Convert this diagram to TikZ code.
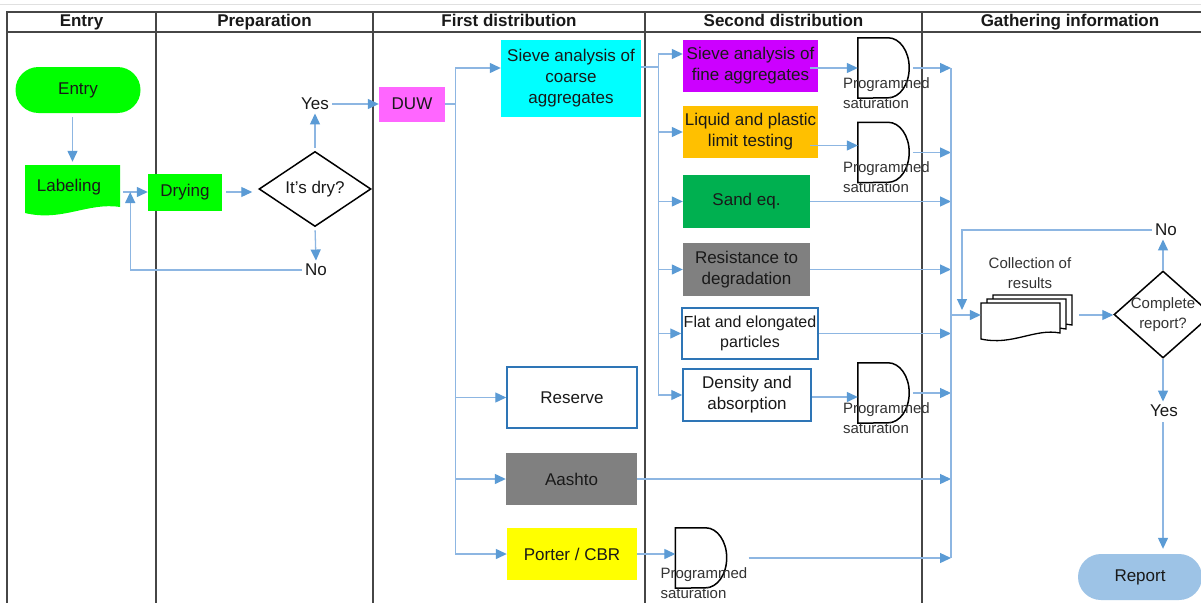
\documentclass[tikz,border=0pt]{standalone}
\usepackage{fontspec}
\setmainfont{Liberation Sans}
\usepackage{tikz}
\usetikzlibrary{calc,shapes,arrows,arrows.meta}

\definecolor{lnk}{RGB}{141,182,226}
\definecolor{tip}{RGB}{91,155,213}
\definecolor{frame}{RGB}{70,70,70}
\definecolor{bord}{RGB}{46,117,182}
\definecolor{grn}{RGB}{0,255,0}
\definecolor{pnk}{RGB}{255,102,255}
\definecolor{cyn}{RGB}{0,255,255}
\definecolor{prp}{RGB}{204,0,255}
\definecolor{org}{RGB}{255,192,0}
\definecolor{sand}{RGB}{0,176,80}
\definecolor{gry}{RGB}{128,128,128}
\definecolor{ylw}{RGB}{255,255,0}
\definecolor{rep}{RGB}{157,195,230}

\begin{document}
\begin{tikzpicture}[x=1pt,y=-1pt,
    every node/.style={font=\fontsize{17}{21}\selectfont, text=black!90},
    small/.style={font=\fontsize{15}{20}\selectfont, text=black!80},
    head/.style={font=\fontsize{17}{21}\selectfont\bfseries, text height=12.5pt, text depth=3.5pt},
    grid/.style={draw=frame, line width=1.2pt},
    conn/.style={draw=lnk, line width=1.3pt, -{Triangle[length=11pt,width=10pt,color=tip]}},
    wire/.style={draw=lnk, line width=1.3pt},
    box/.style={rectangle, inner sep=0pt, align=center},
    bbox/.style={box, draw=bord, line width=1.5pt},
    term/.style={rectangle, rounded corners=23pt, minimum height=46pt, inner sep=0pt},
    decide/.style={diamond, draw=black, line width=1.5pt, inner sep=0pt, align=center},
    delay/.style={minimum width=51pt, minimum height=60pt, inner sep=0pt},
    outline/.style={draw=black, line width=1.5pt}]

    \fill[white] (0,0) rectangle (1201,602);
    \useasboundingbox (0,0) rectangle (1201,602);
    \draw[black!12, line width=1pt] (0,5) -- (1201,5);
    \draw[grid] (7,620) |- (1230,12);
    \draw[grid] (7,32) -- (1230,32);
    \foreach \a/\b/\t [count=\i] in {7/156/Entry, 156/373/Preparation, 373/645/First distribution, 645/922/Second distribution, 922/1218/Gathering information} {
        \draw[grid] (\b,12) -- (\b,620);
        \node[head] (h\i) at ({(\a+\b)/2},22) {\t};
    }

    \node[term, fill=grn, minimum width=125pt] (entry) at (78,90) {Entry};
    \fill[grn] (25,165) -- (120,165) -- (120,207) .. controls (88,202) and (62,222) .. (25,213) -- cycle;
    \node[box, minimum width=95pt, minimum height=44pt] (lab) at (72.5,187) {Labeling\hspace*{7pt}};
    \node[box, fill=grn, minimum width=74pt, minimum height=37pt] (dry) at (185,192) {Drying};
    \node[decide, minimum width=112pt, minimum height=67pt] (isdry) at (315,189) {It’s dry?};
    \node (yes1) at (315,104) {Yes};
    \node (no1) at (316,270) {No};
    \node[box, fill=pnk, minimum width=66pt, minimum height=35pt] (duw) at (412,104) {DUW};

    \node[box, fill=cyn, minimum width=140pt, minimum height=77pt] (coarse) at (571,78.5) {Sieve analysis of\\coarse\\aggregates};
    \node[bbox, minimum width=130pt, minimum height=61pt] (reserve) at (572,397.5) {Reserve};
    \node[box, fill=gry, minimum width=131pt, minimum height=52pt] (aashto) at (571.5,479) {Aashto};
    \node[box, fill=ylw, minimum width=130pt, minimum height=52pt] (porter) at (572,554) {Porter / CBR};

    \node[box, fill=prp, minimum width=135pt, minimum height=52pt] (fine) at (750.5,66) {Sieve analysis of\\fine aggregates};
    \node[box, fill=org, minimum width=135pt, minimum height=52pt] (liquid) at (750.5,132) {Liquid and plastic\\limit testing};
    \node[box, fill=sand, minimum width=127pt, minimum height=53pt] (sandeq) at (746.5,201.5) {Sand eq.};
    \node[box, fill=gry, minimum width=127pt, minimum height=53pt] (resist) at (746.5,269.5) {Resistance to\\degradation};
    \node[bbox, minimum width=136pt, minimum height=51pt, font=\fontsize{16}{20}\selectfont] (flat) at (750,333.5) {Flat and elongated\\particles};
    \node[bbox, minimum width=128pt, minimum height=52pt] (density) at (747,395) {Density and\\absorption};

    \node[delay] (d1) at (883.5,68) {};
    \node[delay] (d2) at (883.5,152.5) {};
    \node[delay] (d3) at (883.5,393) {};
    \node[delay] (d4) at (701,558) {};
    \foreach \d in {d1,d2,d3,d4} {
        \draw[outline] (\d.north west) -- ([xshift=-21pt]\d.north east) arc[start angle=90, end angle=-90, x radius=21pt, y radius=30pt] -- (\d.south west) -- cycle;
        \node[small, align=left, anchor=west, inner sep=0pt] (\d-l) at ([xshift=-15pt, yshift=-25pt]\d.west) {Programmed\\saturation};
    }

    \foreach \k/\j in {12/8, 6/4, 0/0}
        \filldraw[fill=white, draw=black, line width=1.3pt, shift={(\k,-\j)}] (981,303) -- (1060,303) -- (1060,333) .. controls (1035,328) and (1012,346) .. (981,339) -- cycle;
    \node[minimum width=91pt, minimum height=45pt, inner sep=0pt] (coll) at (1026.5,315) {};
    \node[small, align=center] (coll-l) at (1030,273) {Collection of\\results};
    \node[decide, small, inner sep=-3pt, minimum width=98pt, minimum height=87pt] (done) at (1163,314.5) {Complete\\report?};
    \node (no2) at (1166,230) {No};
    \node (yes2) at (1164,411) {Yes};
    \node[term, fill=rep, minimum width=124pt] (report) at (1140,577) {Report};
    \coordinate (g) at (951,315);

    \draw[conn, shorten <=4pt, shorten >=3pt] (entry.south -| lab.north) -- (lab.north);
    \draw[conn] ($(lab.east |- dry.west)+(3,0)$) -- (dry.west);
    \draw[conn, shorten <=4pt, shorten >=6pt] (dry.east) -- (dry.east -| isdry.west);
    \draw[conn, shorten <=3pt] (isdry.north) -- (yes1.south);
    \draw[conn] (yes1.east) -- (duw.west);
    \draw[conn, shorten <=3pt] (isdry.south) -- (no1.north);
    \draw[conn] (no1.west) -| ($(lab.east |- dry.west)+(10,0)$);

    \draw[conn] (duw.east) -- ++(10,0) |- ($(coarse.west)+(0,-10.5)$);
    \foreach \t in {reserve,aashto,porter}
        \draw[conn] (duw.east) ++(10,0) |- (\t.west);
    \draw[conn] ($(coarse.east)+(0,-11.5)$) -- ++(17,0) |- ($(fine.west)+(0,-12)$);
    \foreach \t in {liquid,sandeq,resist,flat,density}
        \draw[conn] ($(coarse.east)+(0,-11.5)$) ++(17,0) |- (\t.west);

    \draw[conn] ($(fine.east |- d1.west)+(-8,0)$) -- (d1.west);
    \draw[conn] ($(liquid.east |- d2.west)+(-8,-7)$) -- ($(d2.west)+(0,-7)$);
    \draw[conn] ($(density.east |- d3.west)+(0,4)$) -- ($(d3.west)+(0,4)$);
    \draw[conn] (porter.east) -- (porter.east -| d4.west);

    \foreach \s in {d1,d2,d3}
        \draw[conn] ($(\s.east)+(4,0)$) -- (\s.east -| g);
    \foreach \s in {sandeq,resist,flat,aashto}
        \draw[conn] (\s.east) -- (\s.east -| g);
    \draw[conn] ($(d4.east)+(22,0)$) -- (d4.east -| g);
    \draw[wire] (d1.east -| g) -- (d4.east -| g);
    \draw[conn] (g) -- (coll.west);

    \draw[conn] ($(coll.east)+(7,0)$) -- (coll.east -| done.west);
    \draw[conn] (done.north) -- (done.north |- no2.south);
    \draw[conn] (no2.west) -| ($(g)+(11,-5)$);
    \draw[conn] (done.south) -- (done.south |- yes2.north);
    \draw[conn, shorten <=2pt, shorten >=5pt] (done.south |- yes2.south) -- (done.south |- report.north);
\end{tikzpicture}
\end{document}
